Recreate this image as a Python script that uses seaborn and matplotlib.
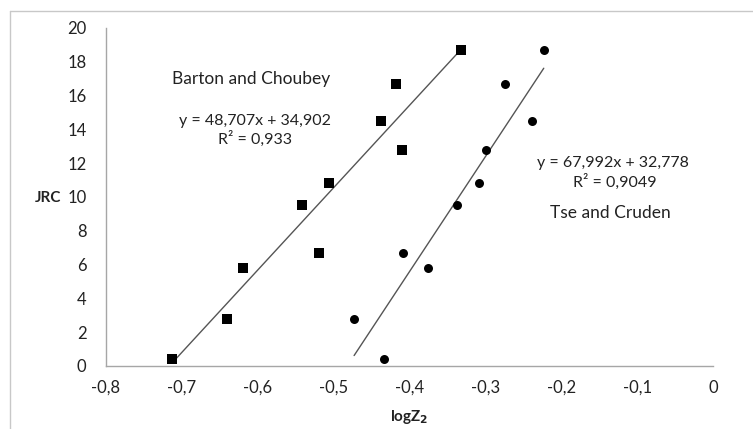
import numpy as np
import pandas as pd
import matplotlib
matplotlib.use("Agg")
import matplotlib.pyplot as plt
from matplotlib.lines import Line2D
from matplotlib.ticker import FuncFormatter
import seaborn as sns

# JRC profiles against log Z2 for two correlations
jrc = [18.7, 16.7, 14.5, 12.8, 10.8, 9.5, 6.7, 5.8, 2.8, 0.4]
logz2_barton = [-0.332, -0.418, -0.438, -0.410, -0.506, -0.542, -0.519, -0.620, -0.640, -0.713]
logz2_tse = [-0.223, -0.274, -0.239, -0.299, -0.309, -0.337, -0.408, -0.376, -0.473, -0.433]

# Linear fits (slope, intercept, R²)
fit_barton = [48.707, 34.902, 0.933]
fit_tse = [67.992, 32.778, 0.9049]

x_ticks = [-0.8, -0.7, -0.6, -0.5, -0.4, -0.3, -0.2, -0.1, 0.0]
y_ticks = [0, 2, 4, 6, 8, 10, 12, 14, 16, 18, 20]

sns.set_theme(style="white")
plt.rcParams["font.family"] = ["Lato", "DejaVu Sans"]

fig = plt.figure(figsize=(7.53, 4.29), dpi=100)
ax = fig.add_axes([0.1408, 0.1469, 0.806, 0.788])

df_b = pd.DataFrame({"x": logz2_barton, "y": jrc})
df_t = pd.DataFrame({"x": logz2_tse, "y": jrc})

def trend(xs, fit):
    xr = np.array([min(xs), max(xs)])
    return pd.DataFrame({"x": xr, "y": fit[0] * xr + fit[1]})

sns.lineplot(data=trend(logz2_barton, fit_barton), x="x", y="y", ax=ax,
             color="#555555", linewidth=1.0)
sns.lineplot(data=trend(logz2_tse, fit_tse), x="x", y="y", ax=ax,
             color="#555555", linewidth=1.0)
sns.scatterplot(data=df_b, x="x", y="y", ax=ax, marker="s", s=55,
                color="black", edgecolor="black", linewidth=0, zorder=3)
sns.scatterplot(data=df_t, x="x", y="y", ax=ax, marker="o", s=42,
                color="black", edgecolor="black", linewidth=0, zorder=3)

ax.set_xlim(-0.8, 0.0)
ax.set_ylim(0, 20)
ax.set_xticks(x_ticks)
ax.set_yticks(y_ticks)
ax.xaxis.set_major_formatter(FuncFormatter(
    lambda v, p: "0" if abs(v) < 1e-9 else f"{v:.1f}".replace(".", ",")))
ax.yaxis.set_major_formatter(FuncFormatter(lambda v, p: f"{v:.0f}"))
ax.tick_params(axis="both", length=0, labelsize=12, colors="#222222", pad=10)
ax.tick_params(axis="y", pad=14)

for side in ("top", "right"):
    ax.spines[side].set_visible(False)
for side in ("left", "bottom"):
    ax.spines[side].set_color("#a6a6a6")
    ax.spines[side].set_linewidth(1.0)

ax.set_xlabel("")
ax.set_ylabel("")
fig.text(48 / 753, 1 - 198 / 429, "JRC", fontsize=11, fontweight="bold",
         ha="center", va="center", color="#222222")
fig.text(409 / 753, 1 - 417 / 429, "logZ$_\\mathbf{2}$", fontsize=11, fontweight="bold",
         ha="center", va="center", color="#222222")

def eq_text(fit):
    s = f"{fit[0]:.3f}".replace(".", ",")
    b = f"{fit[1]:.3f}".replace(".", ",")
    r = f"{fit[2]}".replace(".", ",")
    return f"y = {s}x + {b}", f"R² = {r}"

eb, rb = eq_text(fit_barton)
et, rt = eq_text(fit_tse)
fs = 11.5
fig.text(251 / 753, 1 - 79 / 429, "Barton and Choubey", fontsize=12.5,
         ha="center", va="center", color="#222222")
fig.text(255 / 753, 1 - 121 / 429, eb, fontsize=fs, ha="center", va="center", color="#222222")
fig.text(255 / 753, 1 - 139 / 429, rb, fontsize=fs, ha="center", va="center", color="#222222")
fig.text(613 / 753, 1 - 163 / 429, et, fontsize=fs, ha="center", va="center", color="#222222")
fig.text(615 / 753, 1 - 182 / 429, rt, fontsize=fs, ha="center", va="center", color="#222222")
fig.text(610 / 753, 1 - 213 / 429, "Tse and Cruden", fontsize=12.5,
         ha="center", va="center", color="#222222")

# outer chart-area frame on left and top
fig.add_artist(Line2D([10 / 753, 10 / 753], [0, 1 - 11 / 429], color="#c8c8c8", linewidth=1.0))
fig.add_artist(Line2D([10 / 753, 1], [1 - 11 / 429, 1 - 11 / 429], color="#c8c8c8", linewidth=1.0))

fig.savefig("out.png", dpi=100)
